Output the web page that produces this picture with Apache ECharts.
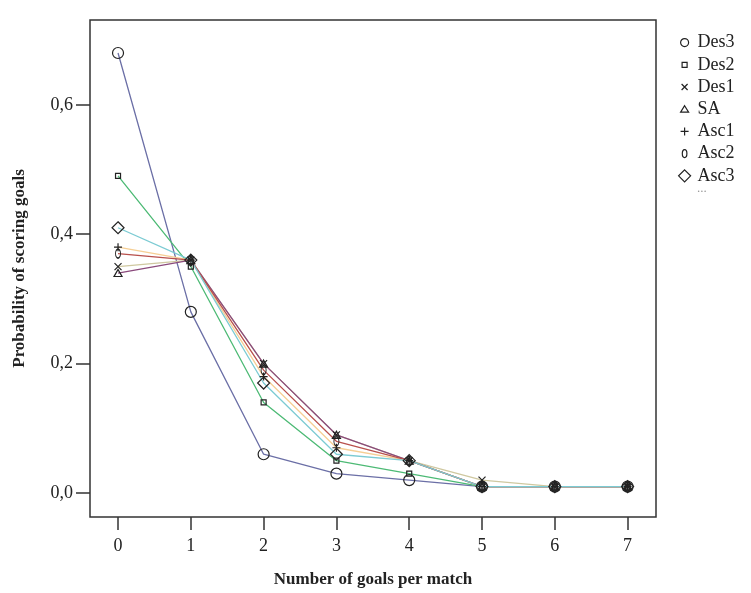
<!DOCTYPE html>
<html>
<head>
<meta charset="utf-8">
<script src="https://cdn.jsdelivr.net/npm/echarts@6/dist/echarts.min.js"></script>
<style>
    html, body { margin: 0; padding: 0; background: #fff; }
    #chart { width: 751px; height: 593px; }
</style>
</head>
<body>
<div id="chart"></div>
<script>
// goals per match on the x axis
const goals = [0, 1, 2, 3, 4, 5, 6, 7]
const yTicks = [0, 0.2, 0.4, 0.6]

const des3 = [0.68, 0.28, 0.06, 0.03, 0.02, 0.01, 0.01, 0.01]
const des2 = [0.49, 0.35, 0.14, 0.05, 0.03, 0.01, 0.01, 0.01]
const des1 = [0.35, 0.36, 0.20, 0.09, 0.05, 0.02, 0.01, 0.01]
const sa   = [0.34, 0.36, 0.20, 0.09, 0.05, 0.01, 0.01, 0.01]
const asc1 = [0.38, 0.36, 0.18, 0.07, 0.05, 0.01, 0.01, 0.01]
const asc2 = [0.37, 0.36, 0.19, 0.08, 0.05, 0.01, 0.01, 0.01]
const asc3 = [0.41, 0.36, 0.17, 0.06, 0.05, 0.01, 0.01, 0.01]

const FONT = 'Liberation Serif'
const INK = '#222'

// marker shapes (hollow, black outline)
const SYM = {
    circle: 'path://M16,10A6,6 0 1,1 4,10A6,6 0 1,1 16,10Z',
    cross: 'path://M0,0L10,10M10,0L0,10',
    plus: 'path://M5,0L5,10M0,5L10,5',
    oval: 'path://M4,0C6.2,0 8,3.6 8,8C8,12.4 6.2,16 4,16C1.8,16 0,12.4 0,8C0,3.6 1.8,0 4,0Z'
}

// legend icons drawn inside a 20x20 box so their sizes differ
const ICON = {
    circle: 'path://M0,0M20,20M14,10A4,4 0 1,1 6,10A4,4 0 1,1 14,10Z',
    rect: 'path://M0,0M20,20M7.5,7.5L12.5,7.5L12.5,12.5L7.5,12.5Z',
    cross: 'path://M0,0M20,20M7,7L13,13M13,7L7,13',
    triangle: 'path://M0,0M20,20M10,6.5L14,13L6,13Z',
    plus: 'path://M0,0M20,20M10,6L10,14M6,10L14,10',
    oval: 'path://M0,0M20,20M10,6C11.4,6 12.3,7.8 12.3,10C12.3,12.2 11.4,14 10,14C8.6,14 7.7,12.2 7.7,10C7.7,7.8 8.6,6 10,6Z',
    diamond: 'path://M0,0M20,20M10,4L16,10L10,16L4,10Z'
}

const SERIES = [
    { name: 'Des3', data: des3, color: '#6b6fa6', symbol: SYM.circle, size: 11, icon: ICON.circle },
    { name: 'Des2', data: des2, color: '#4dba75', symbol: 'rect', size: 5, icon: ICON.rect },
    { name: 'Des1', data: des1, color: '#cfc8a0', symbol: SYM.cross, size: 7, icon: ICON.cross },
    { name: 'SA', data: sa, color: '#8a4a7c', symbol: 'triangle', size: [8, 7], icon: ICON.triangle },
    { name: 'Asc1', data: asc1, color: '#f6cf95', symbol: SYM.plus, size: 8, icon: ICON.plus },
    { name: 'Asc2', data: asc2, color: '#b8504c', symbol: SYM.oval, size: [5, 9], icon: ICON.oval },
    { name: 'Asc3', data: asc3, color: '#7ccbd3', symbol: 'diamond', size: 12, icon: ICON.diamond }
]

const chart = echarts.init(document.getElementById('chart'))

chart.setOption({
    backgroundColor: '#fff',
    animation: false,
    grid: {
        left: 90, right: 95, top: 20, bottom: 76,
        show: true, borderColor: '#333', borderWidth: 1.5, backgroundColor: '#fff'
    },
    legend: {
        orient: 'vertical',
        left: 669,
        top: 27,
        itemWidth: 20,
        itemHeight: 20,
        itemGap: 1,
        selectedMode: false,
        textStyle: { fontFamily: FONT, fontSize: 18, color: INK, padding: [0, 0, 0, -2] },
        data: SERIES.map(s => ({
            name: s.name,
            icon: s.icon,
            itemStyle: { color: 'rgba(0,0,0,0)', borderColor: INK, borderWidth: 1.2 }
        }))
    },
    graphic: [{
        type: 'text',
        left: 697,
        top: 182,
        style: { text: '...', fontFamily: FONT, fontSize: 13, fill: '#999' }
    }],
    xAxis: {
        type: 'value',
        min: -0.385,
        max: 7.39,
        name: 'Number of goals per match',
        nameLocation: 'middle',
        nameGap: 54,
        nameTextStyle: { fontFamily: FONT, fontSize: 17, fontWeight: 'bold', color: INK },
        axisLine: { show: false, onZero: false },
        splitLine: { show: false },
        axisTick: { show: true, length: 13, lineStyle: { color: '#333', width: 1.5 }, customValues: goals },
        axisLabel: { fontFamily: FONT, fontSize: 18, color: INK, margin: 20, customValues: goals }
    },
    yAxis: {
        type: 'value',
        min: -0.037,
        max: 0.731,
        name: 'Probability of scoring goals',
        nameLocation: 'middle',
        nameGap: 62,
        nameTextStyle: { fontFamily: FONT, fontSize: 17, fontWeight: 'bold', color: INK },
        axisLine: { show: false, onZero: false },
        splitLine: { show: false },
        axisTick: { show: true, length: 14, lineStyle: { color: '#333', width: 1.5 }, customValues: yTicks },
        axisLabel: {
            fontFamily: FONT, fontSize: 18, color: INK, margin: 17, customValues: yTicks,
            formatter: v => v.toFixed(1).replace('.', ',')
        }
    },
    series: SERIES.map(s => ({
        name: s.name,
        type: 'line',
        data: goals.map((g, i) => [g, s.data[i]]),
        symbol: s.symbol,
        symbolSize: s.size,
        showAllSymbol: true,
        lineStyle: { color: s.color, width: 1.3 },
        itemStyle: { color: 'rgba(0,0,0,0)', borderColor: INK, borderWidth: 1.2 },
        emphasis: { disabled: true }
    }))
})
</script>
</body>
</html>
